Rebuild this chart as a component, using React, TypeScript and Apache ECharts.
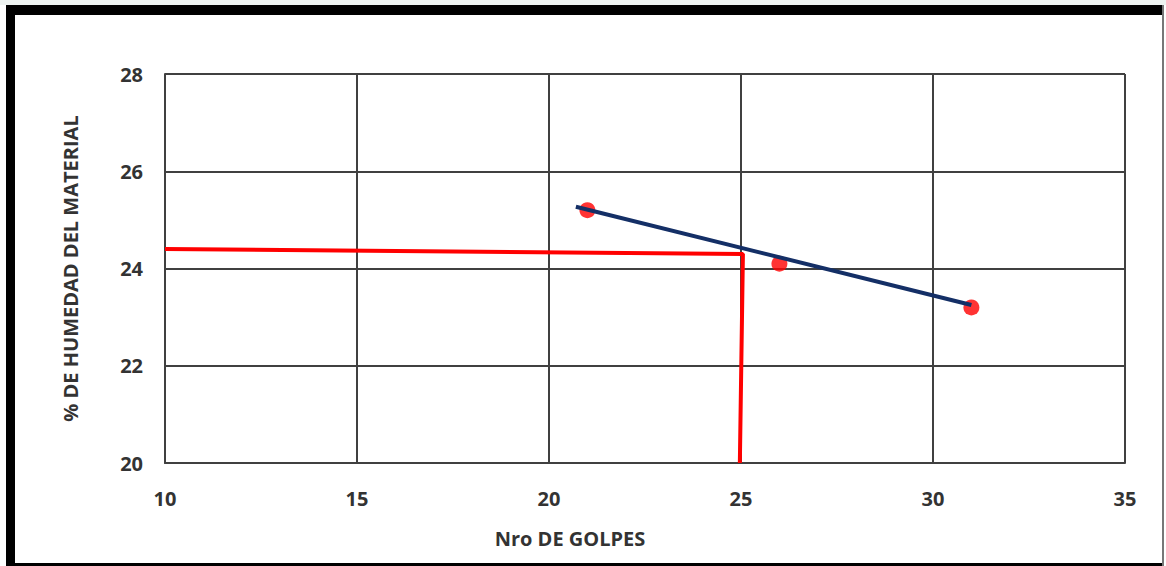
import React, { useEffect, useRef } from "react";
import * as echarts from "echarts";

const xTicks = [10, 15, 20, 25, 30, 35];
const yTicks = [20, 22, 24, 26, 28];
const golpes = [21, 26, 31];
const humedad = [25.2, 24.1, 23.2];
const trendX = [20.7, 31];
const trendY = [25.27, 23.25];
const guideX = [10, 25.05, 24.97];
const guideY = [24.4, 24.3, 20];

const FONT = "'Open Sans', 'Liberation Sans', sans-serif";

export default function App() {
  const ref = useRef<HTMLDivElement>(null);
  useEffect(() => {
    const chart = echarts.init(ref.current!, null, { renderer: "svg" });
    chart.setOption({
      animation: false,
      backgroundColor: "#ffffff",
      grid: { left: 165, right: 41, top: 74, bottom: 103 },
      xAxis: {
        type: "value",
        min: xTicks[0],
        max: xTicks[xTicks.length - 1],
        interval: 5,
        axisLine: { show: true, lineStyle: { color: "#404040", width: 2 } },
        axisTick: { show: false },
        axisLabel: { margin: 25, color: "#333", fontFamily: FONT, fontWeight: "bold", fontSize: 20 },
        splitLine: { show: true, lineStyle: { color: "#404040", width: 2 } },
      },
      yAxis: {
        type: "value",
        min: yTicks[0],
        max: yTicks[yTicks.length - 1],
        interval: 2,
        name: "% DE HUMEDAD DEL MATERIAL",
        nameLocation: "middle",
        nameGap: 85,
        nameTextStyle: { color: "#333", fontFamily: FONT, fontWeight: "bold", fontSize: 20 },
        axisLine: { show: true, lineStyle: { color: "#404040", width: 2 } },
        axisTick: { show: false },
        axisLabel: { margin: 22, color: "#333", fontFamily: FONT, fontWeight: "bold", fontSize: 20 },
        splitLine: { show: true, lineStyle: { color: "#404040", width: 2 } },
      },
      graphic: [
        { type: "rect", shape: { x: 0, y: 0, width: 1166, height: 5 }, style: { fill: "#eef3f1" } },
        { type: "rect", shape: { x: 6, y: 5, width: 1158, height: 10 }, style: { fill: "#000" } },
        { type: "rect", shape: { x: 6, y: 5, width: 9, height: 561 }, style: { fill: "#000" } },
        { type: "rect", shape: { x: 6, y: 563, width: 1158, height: 3 }, style: { fill: "#000" } },
        { type: "rect", shape: { x: 1162, y: 5, width: 2, height: 561 }, style: { fill: "#777" } },
        {
          type: "text",
          x: 570,
          y: 538,
          style: {
            text: "Nro DE GOLPES",
            fill: "#333",
            font: `bold 20px ${FONT}`,
            align: "center",
            verticalAlign: "middle",
          },
        },
      ],
      series: [
        {
          type: "line",
          data: guideX.map((x, i) => [x, guideY[i]]),
          symbol: "none",
          lineStyle: { color: "#ff0000", width: 4 },
          z: 3,
        },
        {
          type: "scatter",
          data: golpes.map((x, i) => [x, humedad[i]]),
          symbolSize: 16,
          itemStyle: { color: "#ff0000" },
          z: 4,
        },
        {
          type: "line",
          data: trendX.map((x, i) => [x, trendY[i]]),
          symbol: "none",
          lineStyle: { color: "#142f66", width: 4 },
          z: 5,
        },
      ],
    });
    return () => chart.dispose();
  }, []);
  return (
    <div
      ref={ref}
      style={{ position: "fixed", left: 0, top: 0, width: 1166, height: 566 }}
    />
  );
}
